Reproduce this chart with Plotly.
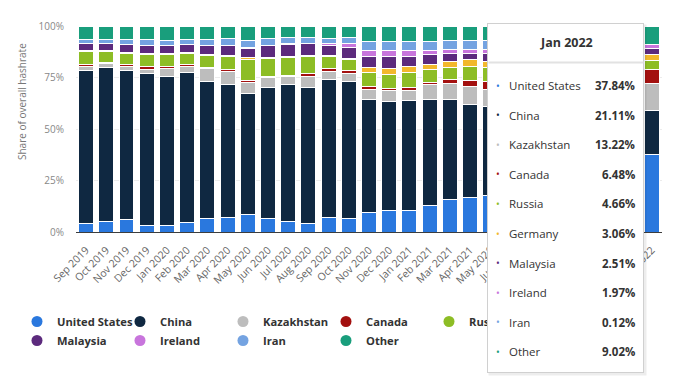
import plotly.graph_objects as go

months = ["Sep 2019", "Oct 2019", "Nov 2019", "Dec 2019", "Jan 2020", "Feb 2020", "Mar 2020",
          "Apr 2020", "May 2020", "Jun 2020", "Jul 2020", "Aug 2020", "Sep 2020", "Oct 2020",
          "Nov 2020", "Dec 2020", "Jan 2021", "Feb 2021", "Mar 2021", "Apr 2021", "May 2021",
          "Jun 2021", "Jul 2021", "Aug 2021", "Sep 2021", "Oct 2021", "Nov 2021", "Dec 2021",
          "Jan 2022"]

united_states = [3.9, 5.0, 6.2, 3.2, 3.1, 4.5, 6.6, 7.1, 8.3, 6.6, 5.0, 4.0, 7.1, 6.6, 9.4, 10.3,
                 10.3, 13.1, 15.9, 16.8, 17.5, 22.0, 35.0, 35.4, 35.0, 36.5, 37.0, 37.5, 37.84]
china = [74.7, 74.8, 72.2, 73.8, 72.6, 72.9, 66.4, 64.3, 58.7, 63.6, 66.4, 66.2, 66.7, 66.7, 54.7,
         53.0, 53.3, 51.0, 48.5, 45.2, 43.3, 30.0, 0.0, 0.0, 22.3, 19.9, 22.3, 19.9, 21.11]
kazakhstan = [1.8, 1.9, 1.9, 2.0, 3.9, 3.0, 6.2, 6.6, 5.6, 5.0, 4.3, 5.2, 4.1, 3.7, 5.2, 5.3, 5.3,
              7.3, 7.8, 8.7, 8.6, 11.0, 18.0, 18.1, 13.8, 13.7, 13.2, 13.9, 13.22]
canada = [0.7, 0.6, 0.8, 1.4, 0.6, 0.7, 0.8, 0.7, 0.8, 0.5, 0.5, 1.6, 1.5, 1.6, 1.2, 1.2, 1.3, 1.1,
          1.6, 2.8, 3.8, 5.0, 9.5, 9.6, 5.0, 5.7, 6.0, 6.3, 6.48]
russia = [6.5, 5.3, 5.5, 5.8, 6.0, 5.6, 5.8, 6.6, 10.1, 8.6, 8.7, 8.4, 5.6, 4.9, 6.9, 6.9, 7.2, 6.5,
          6.1, 6.8, 6.5, 8.5, 11.5, 11.1, 5.0, 5.3, 4.8, 4.9, 4.66]
germany = [0.6, 0.5, 0.5, 0.5, 0.6, 0.6, 0.6, 0.6, 1.0, 0.6, 0.5, 0.5, 0.6, 0.8, 2.5, 2.9, 2.9, 2.4,
           2.8, 3.2, 3.3, 3.6, 4.5, 4.5, 3.5, 3.3, 3.2, 3.1, 3.06]
malaysia = [3.4, 3.5, 4.0, 4.0, 3.8, 3.8, 4.0, 4.4, 4.7, 5.5, 5.6, 5.4, 4.8, 5.5, 5.2, 5.5, 5.1, 4.9,
            4.0, 3.2, 3.5, 4.0, 4.0, 3.4, 2.6, 2.6, 2.5, 2.5, 2.51]
ireland = [0.0, 0.0, 0.0, 0.0, 0.0, 0.0, 0.0, 0.0, 0.3, 0.3, 0.3, 0.3, 1.3, 1.8, 2.9, 2.9, 2.6, 1.7,
           2.1, 2.1, 2.3, 3.5, 4.6, 4.7, 2.5, 2.2, 2.0, 2.0, 1.97]
iran = [1.8, 1.9, 2.4, 2.6, 2.6, 2.5, 3.0, 3.6, 3.6, 3.0, 3.0, 2.7, 2.0, 2.7, 4.5, 4.5, 4.5, 4.5,
        4.4, 4.4, 4.3, 4.0, 3.0, 3.1, 0.5, 0.3, 0.2, 0.1, 0.12]
other = [6.6, 6.5, 6.5, 6.7, 6.8, 6.4, 6.6, 6.1, 6.9, 6.3, 5.7, 5.7, 6.3, 5.7, 7.5, 7.5, 7.5, 7.5,
         6.8, 6.8, 6.9, 8.4, 9.9, 10.1, 9.8, 10.5, 8.8, 9.8, 9.02]

countries = ["United States", "China", "Kazakhstan", "Canada", "Russia", "Germany",
             "Malaysia", "Ireland", "Iran", "Other"]
colors = ["#2a78de", "#0f2841", "#bdbdbd", "#a3100f", "#8dbd25", "#f2b82c",
          "#5c2a7d", "#c875dc", "#74a3e1", "#199e7c"]
series = [united_states, china, kazakhstan, canada, russia, germany, malaysia, ireland, iran, other]

y_ticks = [0, 25, 50, 75, 100]
y_tick_labels = ["0%", "25%", "50%", "75%", "100%"]

W, H = 676, 380
L, R, T, B = 76, 14, 26, 148
PW, PH = W - L - R, H - T - B


def px(x):
    return (x - L) / PW


def py(y):
    return (T + PH - y) / PH


fig = go.Figure()
for name, col, vals in zip(countries, colors, series):
    fig.add_trace(go.Bar(x=months, y=vals, name=name, showlegend=False,
                         marker=dict(color=col, line=dict(color="white", width=1))))
for name, col in zip(countries, colors):
    fig.add_trace(go.Scatter(x=[None], y=[None], mode="markers", name=name,
                             marker=dict(size=11, color=col, symbol="circle")))


def note(text, x, y, xanchor="center", **kw):
    d = dict(text=text, x=px(x), y=py(y), xref="paper", yref="paper", showarrow=False,
             xanchor=xanchor, yanchor="middle")
    d.update(kw)
    return d


ann = []
ann.append(note("Share of overall hashrate", 22, 102, textangle=-90,
                font=dict(size=10, color="#777")))

# tooltip box (shadow + box + separator)
bx0, bx1, by0, by1 = 487, 644, 23, 373
cx, cy = (bx0 + bx1) / 2, (by0 + by1) / 2
ann.append(note(" ", cx + 2, cy + 2, width=bx1 - bx0, height=by1 - by0, borderpad=0,
                bgcolor="rgba(0,0,0,0.07)", font=dict(size=1)))
ann.append(note(" ", cx, cy, width=bx1 - bx0 - 2, height=by1 - by0 - 2, borderpad=0,
                bgcolor="white", bordercolor="#d0d0d0", borderwidth=1, font=dict(size=1)))
ann.append(note(" ", cx, 62, width=bx1 - bx0 - 3, height=1, borderpad=0,
                bgcolor="#e2e2e2", font=dict(size=1)))
ann.append(note("<b>" + months[-1] + "</b>", 566, 43, font=dict(size=12.5, color="#333")))
row0, step = 85.5, 29.6
for i, (name, col, vals) in enumerate(zip(countries, colors, series)):
    yy = row0 + i * step
    ann.append(note("•", 498, yy, font=dict(size=10, color=col)))
    ann.append(note(name, 507, yy, xanchor="left", font=dict(size=11.5, color="#333")))
    ann.append(note("<b>%.2f%%</b>" % vals[-1], 637, yy, xanchor="right",
                    font=dict(size=11.5, color="#333")))

fig.update_layout(
    width=W, height=H, margin=dict(l=L, r=R, t=T, b=B),
    barmode="stack", barnorm="percent", bargap=0.26,
    plot_bgcolor="white", paper_bgcolor="white",
    font=dict(family="Open Sans", color="#666"),
    hovermode=False,
    xaxis=dict(type="category", tickangle=-45, tickfont=dict(size=10.5, color="#666"),
               showline=True, linecolor="#3d3d3d", linewidth=1, ticks="outside", ticklen=7,
               tickcolor="rgba(0,0,0,0)", showgrid=False, fixedrange=True, automargin=False),
    yaxis=dict(range=[0, 100], tickmode="array", tickvals=y_ticks, ticktext=y_tick_labels,
               showgrid=True, gridcolor="#ececec", zeroline=False, ticks="outside", ticklen=9,
               tickcolor="rgba(0,0,0,0)", tickfont=dict(size=10, color="#888"), automargin=False),
    legend=dict(orientation="h", x=px(17), xanchor="left", y=py(307), yanchor="top",
                entrywidth=58, entrywidthmode="pixels", itemwidth=30, traceorder="normal",
                font=dict(size=11.2, color="#333", weight="bold")),
    annotations=ann,
)

fig.write_html("out.html")
